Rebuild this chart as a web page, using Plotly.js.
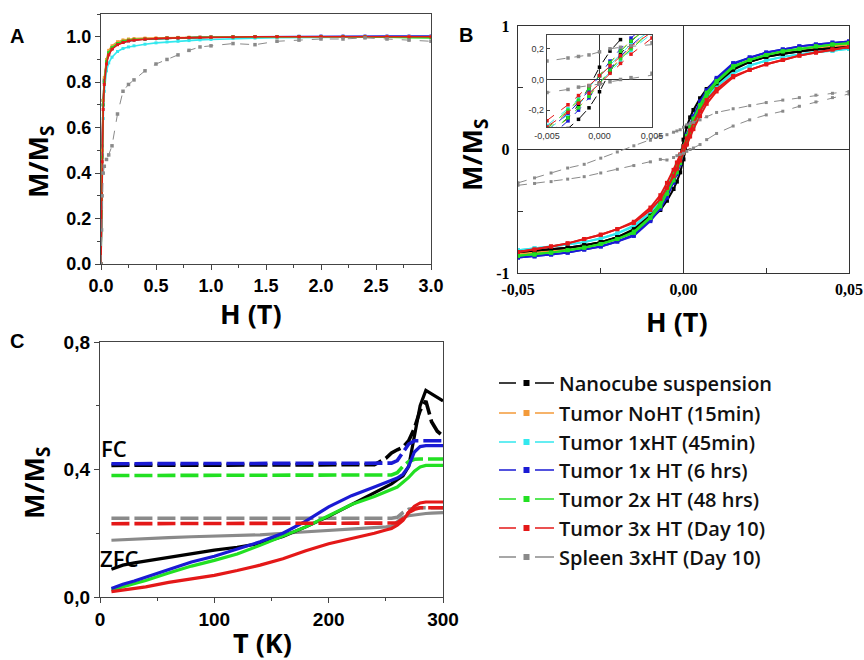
<!DOCTYPE html>
<html>
<head>
<meta charset="utf-8">
<script src="https://cdn.plot.ly/plotly-3.0.1.min.js"></script>
<style>html,body{margin:0;padding:0;background:#fff;}#chart{width:864px;height:660px;}</style>
</head>
<body>
<div id="chart"></div>
<script>
// ---------- series ----------
const seriesNames = ["Nanocube suspension","Tumor NoHT (15min)","Tumor 1xHT (45min)","Tumor 1x HT (6 hrs)","Tumor 2x HT (48 hrs)","Tumor 3x HT (Day 10)","Spleen 3xHT (Day 10)"];
const seriesColors = ["#000000","#f39a3a","#33e8ee","#1a1ad4","#22e022","#e41818","#8a8a8a"];

// ---------- Panel A : M/Ms vs H (T) ----------
const H_A = [0,0.005,0.01,0.02,0.03,0.05,0.07,0.1,0.15,0.2,0.25,0.3,0.4,0.5,0.6,0.7,0.8,0.9,1.0,1.2,1.4,1.6,1.8,2.0,2.2,2.4,2.6,2.8,3.0];
const A_black  = [0,0.30,0.52,0.72,0.81,0.89,0.925,0.948,0.966,0.976,0.982,0.986,0.99,0.992,0.994,0.995,0.996,0.997,0.998,0.999,1.0,1.0,1.0,1.0,1.0,1.0,1.0,1.0,1.0];
const A_orange = [0,0.28,0.50,0.72,0.82,0.90,0.94,0.96,0.978,0.986,0.99,0.992,0.994,0.995,0.996,0.997,0.998,0.998,0.999,1.0,1.0,1.0,1.0,1.0,1.0,1.0,1.0,1.0,1.0];
const A_cyan   = [0,0.22,0.42,0.64,0.76,0.85,0.885,0.91,0.935,0.948,0.955,0.96,0.967,0.973,0.977,0.98,0.983,0.986,0.988,0.992,0.994,0.996,0.997,0.998,0.999,1.0,1.0,1.0,1.0];
const A_blue   = [0,0.27,0.48,0.70,0.80,0.89,0.93,0.95,0.968,0.978,0.984,0.987,0.99,0.992,0.994,0.995,0.996,0.997,0.998,0.999,1.0,1.0,1.002,1.003,1.003,1.003,1.003,1.003,1.003];
const A_green  = [0,0.26,0.47,0.70,0.80,0.89,0.93,0.952,0.97,0.98,0.985,0.988,0.99,0.992,0.994,0.995,0.996,0.997,0.998,0.999,1.0,1.0,1.0,1.0,1.0,1.0,0.998,0.996,0.995];
const A_red    = [0,0.25,0.45,0.68,0.79,0.88,0.92,0.945,0.965,0.975,0.982,0.985,0.99,0.992,0.994,0.995,0.996,0.997,0.998,0.999,1.0,1.0,1.0,1.0,1.0,1.0,1.0,1.0,1.0];
const A_gray   = [0,0.15,0.30,0.40,0.43,0.46,0.48,0.52,0.66,0.76,0.79,0.81,0.85,0.88,0.90,0.92,0.94,0.955,0.96,0.97,0.965,0.98,0.985,0.99,0.99,0.995,0.99,0.985,0.98];

// ---------- Panel B : hysteresis loops, H (T) ----------
const H_B = [-0.05,-0.045,-0.04,-0.035,-0.03,-0.025,-0.02,-0.015,-0.01,-0.007,-0.005,-0.003,-0.002,-0.001,0,0.001,0.002,0.003,0.005,0.007,0.01,0.015,0.02,0.025,0.03,0.035,0.04,0.045,0.05];
const B_black_down  = [-0.83,-0.82,-0.81,-0.795,-0.775,-0.75,-0.71,-0.645,-0.535,-0.445,-0.36,-0.25,-0.165,-0.05,0.08,0.185,0.26,0.32,0.415,0.49,0.565,0.655,0.71,0.75,0.775,0.795,0.81,0.82,0.83];
const B_black_up    = [-0.83,-0.82,-0.81,-0.795,-0.775,-0.75,-0.71,-0.655,-0.565,-0.49,-0.415,-0.32,-0.26,-0.185,-0.08,0.05,0.165,0.25,0.36,0.445,0.535,0.645,0.71,0.75,0.775,0.795,0.81,0.82,0.83];
const B_orange_down = [-0.845,-0.835,-0.82,-0.80,-0.78,-0.75,-0.71,-0.65,-0.535,-0.43,-0.33,-0.21,-0.14,-0.06,0.025,0.11,0.185,0.255,0.36,0.45,0.545,0.66,0.71,0.75,0.78,0.80,0.82,0.835,0.845];
const B_orange_up   = [-0.845,-0.835,-0.82,-0.80,-0.78,-0.75,-0.71,-0.66,-0.545,-0.45,-0.36,-0.255,-0.185,-0.11,-0.025,0.06,0.14,0.21,0.33,0.43,0.535,0.65,0.71,0.75,0.78,0.80,0.82,0.835,0.845];
const B_cyan_down   = [-0.815,-0.80,-0.79,-0.77,-0.75,-0.72,-0.68,-0.615,-0.51,-0.40,-0.30,-0.19,-0.125,-0.05,0.022,0.095,0.165,0.23,0.33,0.42,0.52,0.625,0.68,0.72,0.75,0.77,0.79,0.80,0.815];
const B_cyan_up     = [-0.815,-0.80,-0.79,-0.77,-0.75,-0.72,-0.68,-0.625,-0.52,-0.42,-0.33,-0.23,-0.165,-0.095,-0.022,0.05,0.125,0.19,0.30,0.40,0.51,0.615,0.68,0.72,0.75,0.77,0.79,0.80,0.815];
const B_blue_down   = [-0.875,-0.865,-0.85,-0.835,-0.81,-0.785,-0.745,-0.69,-0.57,-0.45,-0.34,-0.22,-0.15,-0.07,0.025,0.12,0.20,0.27,0.39,0.48,0.58,0.70,0.745,0.785,0.81,0.835,0.85,0.865,0.875];
const B_blue_up     = [-0.875,-0.865,-0.85,-0.835,-0.81,-0.785,-0.745,-0.70,-0.58,-0.48,-0.39,-0.27,-0.20,-0.12,-0.025,0.07,0.15,0.22,0.34,0.45,0.57,0.69,0.745,0.785,0.81,0.835,0.85,0.865,0.875];
const B_green_down  = [-0.86,-0.85,-0.835,-0.815,-0.795,-0.765,-0.725,-0.665,-0.545,-0.43,-0.32,-0.20,-0.135,-0.06,0.025,0.11,0.185,0.25,0.36,0.46,0.555,0.675,0.725,0.765,0.795,0.815,0.835,0.85,0.86];
const B_green_up    = [-0.86,-0.85,-0.835,-0.815,-0.795,-0.765,-0.725,-0.675,-0.555,-0.46,-0.36,-0.25,-0.185,-0.11,-0.025,0.06,0.135,0.20,0.32,0.43,0.545,0.665,0.725,0.765,0.795,0.815,0.835,0.85,0.86];
const B_red_down    = [-0.83,-0.81,-0.785,-0.76,-0.725,-0.69,-0.645,-0.585,-0.47,-0.37,-0.27,-0.165,-0.105,-0.04,0.025,0.09,0.155,0.215,0.31,0.40,0.49,0.595,0.645,0.69,0.725,0.76,0.785,0.81,0.83];
const B_red_up      = [-0.83,-0.81,-0.785,-0.76,-0.725,-0.69,-0.645,-0.595,-0.49,-0.40,-0.31,-0.215,-0.155,-0.09,-0.025,0.04,0.105,0.165,0.27,0.37,0.47,0.585,0.645,0.69,0.725,0.76,0.785,0.81,0.83];
const B_gray_down   = [-0.27,-0.23,-0.19,-0.15,-0.12,-0.07,-0.02,0.03,0.075,0.11,0.12,0.14,0.15,0.16,0.18,0.20,0.21,0.22,0.24,0.265,0.30,0.33,0.355,0.38,0.40,0.42,0.44,0.455,0.47];
const B_gray_up     = [-0.29,-0.275,-0.26,-0.24,-0.22,-0.19,-0.16,-0.13,-0.10,-0.08,-0.085,-0.065,-0.05,-0.04,-0.03,-0.015,0.0,0.012,0.04,0.08,0.13,0.19,0.24,0.28,0.31,0.35,0.385,0.42,0.45];

// ---------- Panel C : ZFC / FC, T (K) ----------
const T_C = [10,20,30,40,60,80,100,120,140,160,180,200,220,240,250,255,260,265,270,275,280,285,290,295,300];
const C_black_ZFC = [0.087,0.10,0.107,0.113,0.125,0.137,0.147,0.156,0.168,0.19,0.22,0.253,0.29,0.325,0.345,0.355,0.368,0.38,0.41,0.50,0.60,0.648,0.637,0.625,0.615];
const C_black_FC  = [0.413,0.413,0.413,0.413,0.413,0.413,0.413,0.413,0.413,0.413,0.413,0.413,0.413,0.415,0.435,0.452,0.462,0.47,0.49,0.53,0.585,0.615,0.55,0.52,0.505];
const C_blue_ZFC  = [0.027,0.04,0.05,0.062,0.087,0.11,0.128,0.15,0.173,0.20,0.238,0.283,0.318,0.345,0.36,0.367,0.373,0.385,0.41,0.455,0.472,0.475,0.475,0.475,0.475];
const C_blue_FC   = [0.418,0.418,0.418,0.418,0.418,0.418,0.418,0.418,0.418,0.418,0.418,0.418,0.418,0.418,0.418,0.42,0.428,0.455,0.48,0.49,0.49,0.49,0.49,0.49,0.49];
const C_green_ZFC = [0.022,0.032,0.042,0.052,0.075,0.097,0.115,0.135,0.162,0.19,0.22,0.255,0.29,0.315,0.33,0.337,0.345,0.36,0.375,0.395,0.408,0.413,0.413,0.413,0.413];
const C_green_FC  = [0.381,0.381,0.381,0.381,0.381,0.381,0.381,0.381,0.381,0.381,0.381,0.381,0.381,0.381,0.381,0.383,0.39,0.41,0.425,0.432,0.433,0.433,0.433,0.433,0.433];
const C_red_ZFC   = [0.017,0.022,0.027,0.032,0.046,0.057,0.068,0.083,0.10,0.12,0.145,0.167,0.183,0.20,0.21,0.215,0.225,0.24,0.265,0.285,0.295,0.298,0.298,0.298,0.298];
const C_red_FC    = [0.23,0.23,0.23,0.23,0.23,0.23,0.23,0.23,0.23,0.23,0.23,0.23,0.23,0.23,0.23,0.23,0.232,0.245,0.265,0.275,0.28,0.28,0.28,0.28,0.28];
const C_gray_ZFC  = [0.178,0.18,0.181,0.183,0.186,0.189,0.191,0.193,0.195,0.20,0.204,0.208,0.213,0.218,0.22,0.222,0.235,0.25,0.255,0.258,0.26,0.262,0.263,0.264,0.265];
const C_gray_FC   = [0.247,0.247,0.247,0.247,0.247,0.247,0.247,0.247,0.247,0.247,0.247,0.247,0.247,0.247,0.247,0.247,0.25,0.265,0.275,0.278,0.28,0.28,0.28,0.28,0.28];

// ---------- build traces ----------
const traces = [];
const col = i => seriesColors[i];

// Panel A
const A_data = [[0,A_black],[3,A_blue],[2,A_cyan],[1,A_orange],[4,A_green],[5,A_red],[6,A_gray]];
A_data.forEach(([i,y]) => {
  traces.push({type:'scatter', mode:'lines+markers', x:H_A, y:y, xaxis:'x', yaxis:'y', showlegend:false,
    line:{color:col(i), width: i===6?1:1.6, dash: i===6?'dash':'solid'},
    marker:{color:col(i), size: i===6?3.5:3, symbol:'square'}});
});

// Panel B main + inset
const B_data = [[1,B_orange_down,B_orange_up],[2,B_cyan_down,B_cyan_up],[0,B_black_down,B_black_up],
                [3,B_blue_down,B_blue_up],[4,B_green_down,B_green_up],[5,B_red_down,B_red_up],[6,B_gray_down,B_gray_up]];
B_data.forEach(([i,d,u]) => {
  [d,u].forEach(y => {
    traces.push({type:'scatter', mode:'lines+markers', x:H_B, y:y, xaxis:'x2', yaxis:'y2', showlegend:false,
      line:{color:col(i), width: i===6?1:2, dash: i===6?'dash':'solid'},
      marker:{color:col(i), size: i===6?3:4, symbol:'square'}});
  });
});
B_data.forEach(([i,d,u]) => {
  [d,u].forEach(y => {
    traces.push({type:'scatter', mode:'lines+markers', x:H_B, y:y, xaxis:'x3', yaxis:'y3', showlegend:false,
      line:{color:col(i), width:1, dash:'dash'},
      marker:{color:col(i), size:3.5, symbol:'square'}});
  });
});

// Panel C
const C_data = [[6,C_gray_ZFC,C_gray_FC],[0,C_black_ZFC,C_black_FC],[4,C_green_ZFC,C_green_FC],[3,C_blue_ZFC,C_blue_FC],[5,C_red_ZFC,C_red_FC]];
C_data.forEach(([i,z,f]) => {
  traces.push({type:'scatter', mode:'lines', x:T_C, y:z, xaxis:'x4', yaxis:'y4', showlegend:false,
    line:{color:col(i), width:3.2}});
  traces.push({type:'scatter', mode:'lines', x:T_C, y:f, xaxis:'x4', yaxis:'y4', showlegend:false,
    line:{color:col(i), width:3.6, dash:'18px,5px'}});
});

// Legend entries (no data), one legend box per entry
const legendIds = ['legend','legend2','legend3','legend4','legend5','legend6','legend7'];
seriesNames.forEach((nm,i) => {
  traces.push({type:'scatter', mode:'lines+markers', x:[null], y:[null], xaxis:'x', yaxis:'y', name:nm, showlegend:true,
    legend: legendIds[i],
    line:{color:col(i), width:1.5, dash:'17px,19px,19px'}, marker:{color:col(i), size:6, symbol:'square'}});
});

// ---------- layout ----------
const W=864, Hh=660;
const px = v => v/W, py = v => 1 - v/Hh;
const sans = 'Liberation Sans, Arial, sans-serif';
const titleFont = {family:'Open Sans, sans-serif', size:27, weight:700, color:'#000'};
const tickA = {family:sans, size:18, weight:700, color:'#000'};
const frame = {showline:true, mirror:true, linecolor:'#444', linewidth:1.2, showgrid:false, zeroline:false};
const serifTick = {family:'Liberation Serif, Times New Roman, serif', size:16, weight:700, color:'#000'};

const layout = {
  width:W, height:Hh, autosize:false,
  margin:{l:0,r:0,t:0,b:0},
  paper_bgcolor:'#fff', plot_bgcolor:'#fff',
  showlegend:true,
  xaxis:Object.assign({}, frame, {domain:[px(101),px(431)], range:[0,3.0], anchor:'y', ticks:'outside', ticklen:5, tickcolor:'#444',
    tick0:0, dtick:0.5, tickformat:'.1f', tickfont:tickA,
    minor:{dtick:0.25, ticks:'outside', ticklen:3, tickcolor:'#444'}}),
  yaxis:Object.assign({}, frame, {domain:[py(264),py(14)], range:[0,1.1], anchor:'x', ticks:'outside', ticklen:5, tickcolor:'#444',
    tick0:0, dtick:0.2, tickformat:'.1f', tickfont:tickA,
    minor:{dtick:0.1, ticks:'outside', ticklen:3, tickcolor:'#444'}}),
  xaxis2:Object.assign({}, frame, {domain:[px(518),px(849)], range:[-0.05,0.0500001], anchor:'y2', linecolor:'#333',
    ticks:'inside', ticklen:5, tickcolor:'#333', tickmode:'array',
    tickvals:[-0.05,-0.025,0,0.025,0.05], ticktext:['-0,05','','0,00','','0,05'],
    tickfont:serifTick, ticklabelstandoff:2, zeroline:true, zerolinecolor:'#333', zerolinewidth:1}),
  yaxis2:Object.assign({}, frame, {domain:[py(273),py(26)], range:[-1,1.000001], anchor:'x2', linecolor:'#333',
    ticks:'inside', ticklen:5, tickcolor:'#333', tickmode:'array',
    tickvals:[-1,-0.5,0,0.5,1], ticktext:['-1','','0','','1'],
    tickfont:serifTick, ticklabelstandoff:4, zeroline:true, zerolinecolor:'#333', zerolinewidth:1}),
  xaxis3:Object.assign({}, frame, {domain:[px(547),px(652)], range:[-0.005,0.0050001], anchor:'y3', linecolor:'#444',
    ticks:'inside', ticklen:3, tickcolor:'#444', tickmode:'array',
    tickvals:[-0.005,0,0.005], ticktext:['-0,005','0,000','0,005'],
    tickfont:{family:sans, size:9, color:'#333'},
    zeroline:true, zerolinecolor:'#333', zerolinewidth:1}),
  yaxis3:Object.assign({}, frame, {domain:[py(127),py(35)], range:[-0.31,0.29], anchor:'x3', linecolor:'#444',
    ticks:'inside', ticklen:3, tickcolor:'#444', tickmode:'array',
    tickvals:[-0.2,0,0.2], ticktext:['-0,2','0,0','0,2'],
    tickfont:{family:sans, size:9, color:'#333'},
    zeroline:true, zerolinecolor:'#333', zerolinewidth:1}),
  xaxis4:Object.assign({}, frame, {domain:[px(100),px(443)], range:[0,300.0001], anchor:'y4', ticks:'outside', ticklen:5, tickcolor:'#444',
    tick0:0, dtick:100, tickfont:{family:sans, size:19, weight:700, color:'#000'},
    minor:{dtick:50, ticks:'outside', ticklen:3, tickcolor:'#444'}}),
  yaxis4:Object.assign({}, frame, {domain:[py(597),py(342)], range:[0,0.8000001], anchor:'x4', ticks:'outside', ticklen:5, tickcolor:'#444',
    tickmode:'array', tickvals:[0,0.4,0.8], ticktext:['0,0','0,4','0,8'],
    tickfont:{family:sans, size:19, weight:700, color:'#000'},
    minor:{tickmode:'array', tickvals:[0.2,0.6], ticks:'outside', ticklen:3, tickcolor:'#444'}}),
  annotations:[
    {text:'A', x:px(17), y:py(36), xref:'paper', yref:'paper', showarrow:false, xanchor:'center', yanchor:'middle', font:{family:sans, size:20, weight:700, color:'#000'}},
    {text:'B', x:px(466), y:py(35), xref:'paper', yref:'paper', showarrow:false, xanchor:'center', yanchor:'middle', font:{family:sans, size:20, weight:700, color:'#000'}},
    {text:'C', x:px(17), y:py(341), xref:'paper', yref:'paper', showarrow:false, xanchor:'center', yanchor:'middle', font:{family:sans, size:20, weight:700, color:'#000'}},
    {text:'M/M<sub>S</sub>', x:px(39), y:py(162), xref:'paper', yref:'paper', showarrow:false, textangle:-90, xanchor:'center', yanchor:'middle', font:titleFont},
    {text:'H (T)', x:px(251), y:py(313), xref:'paper', yref:'paper', showarrow:false, xanchor:'center', yanchor:'middle', font:titleFont},
    {text:'M/M<sub>S</sub>', x:px(473), y:py(155), xref:'paper', yref:'paper', showarrow:false, textangle:-90, xanchor:'center', yanchor:'middle', font:titleFont},
    {text:'H (T)', x:px(677), y:py(321), xref:'paper', yref:'paper', showarrow:false, xanchor:'center', yanchor:'middle', font:titleFont},
    {text:'M/M<sub>S</sub>', x:px(35), y:py(483), xref:'paper', yref:'paper', showarrow:false, textangle:-90, xanchor:'center', yanchor:'middle', font:titleFont},
    {text:'T (K)', x:px(262), y:py(642), xref:'paper', yref:'paper', showarrow:false, xanchor:'center', yanchor:'middle', font:titleFont},
    {text:'FC', x:px(114), y:py(448), xref:'paper', yref:'paper', showarrow:false, xanchor:'center', yanchor:'middle', font:{family:'Open Sans, sans-serif', size:22, weight:600, color:'#000'}},
    {text:'ZFC', x:px(119), y:py(558), xref:'paper', yref:'paper', showarrow:false, xanchor:'center', yanchor:'middle', font:{family:'Open Sans, sans-serif', size:22, weight:600, color:'#000'}}
  ]
};

// legend boxes positioned one by one
const legendCenters = [383, 413, 442, 470, 499, 528, 557];
legendIds.forEach((id,i) => {
  layout[id] = {x:px(494), y:py(legendCenters[i]), xanchor:'left', yanchor:'middle', bgcolor:'rgba(0,0,0,0)',
    font:{family:'Open Sans, sans-serif', size:20, weight:600, color:'#111'}, itemwidth:55, tracegroupgap:0};
});

Plotly.newPlot('chart', traces, layout, {displayModeBar:false, staticPlot:true});
</script>
</body>
</html>
